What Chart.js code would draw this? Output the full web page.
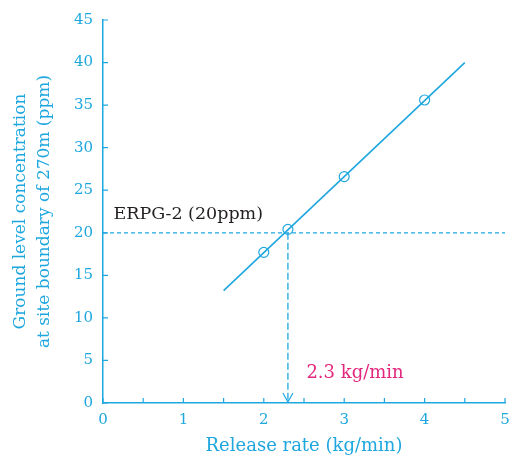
<!DOCTYPE html>
<html>
<head>
<meta charset="utf-8">
<script src="https://cdn.jsdelivr.net/npm/chart.js@4/dist/chart.umd.min.js"></script>
<style>
  html, body { margin: 0; padding: 0; background: #fff; }
  #wrap { width: 509px; height: 457px; }
</style>
</head>
<body>
<div id="wrap"><canvas id="chart"></canvas></div>
<script>
// data
const fitX = [1.5, 4.5];
const fitY = [13.2, 40.0];
const pointX = [2, 3, 4, 2.3];
const pointY = [17.7, 26.6, 35.6, 20.4];
const limitY = 20;
const limitLabel = 'ERPG-2 (20ppm)';
const rateX = 2.3;
const rateLabel = '2.3 kg/min';
const xTicks = [0, 1, 2, 3, 4, 5];
const yTicks = [0, 5, 10, 15, 20, 25, 30, 35, 40, 45];
const xTitle = 'Release rate (kg/min)';
const yTitle = ['Ground level concentration', 'at site boundary of 270m (ppm)'];

const cyan = '#1ea7df';
const pink = '#e2277d';
const serif = "'DejaVu Serif', serif";

const toPts = (xs, ys) => xs.map((x, i) => ({x: x, y: ys[i]}));

// inward tick marks, text labels and the arrow head
const extras = {
  id: 'extras',
  afterDatasetsDraw(chart) {
    const {ctx, scales: {x, y}} = chart;
    ctx.save();
    ctx.strokeStyle = cyan;
    ctx.lineWidth = 1.2;
    ctx.setLineDash([]);
    ctx.beginPath();
    x.ticks.forEach(t => {
      const px = x.getPixelForValue(t.value);
      ctx.moveTo(px, y.bottom);
      ctx.lineTo(px, y.bottom - 5);
    });
    y.ticks.forEach(t => {
      const py = y.getPixelForValue(t.value);
      ctx.moveTo(x.left, py);
      ctx.lineTo(x.left + 5, py);
    });
    ctx.stroke();

    // arrow head at the bottom of the dashed drop line
    const ax = x.getPixelForValue(rateX);
    const ay = y.getPixelForValue(0) - 1;
    ctx.beginPath();
    ctx.moveTo(ax - 5, ay - 9);
    ctx.lineTo(ax, ay);
    ctx.lineTo(ax + 5, ay - 9);
    ctx.stroke();

    ctx.textBaseline = 'middle';
    ctx.textAlign = 'left';
    ctx.font = '17.5px ' + serif;
    ctx.fillStyle = '#231f20';
    ctx.fillText(limitLabel, x.getPixelForValue(0.13), y.getPixelForValue(22.1));
    ctx.font = '18px ' + serif;
    ctx.fillStyle = pink;
    ctx.fillText(rateLabel, x.getPixelForValue(2.53), y.getPixelForValue(3.5));
    ctx.restore();
  }
};

new Chart(document.getElementById('chart'), {
  type: 'scatter',
  data: {
    datasets: [
      {
        data: toPts(fitX, fitY),
        showLine: true,
        borderColor: cyan,
        borderWidth: 1.6,
        pointRadius: 0
      },
      {
        data: toPts(pointX, pointY),
        borderColor: cyan,
        backgroundColor: 'rgba(0,0,0,0)',
        borderWidth: 1.2,
        pointRadius: 5,
        showLine: false
      },
      {
        data: [{x: xTicks[0], y: limitY}, {x: xTicks[xTicks.length - 1], y: limitY}],
        showLine: true,
        borderColor: cyan,
        borderWidth: 1.2,
        borderDash: [4, 3],
        pointRadius: 0
      },
      {
        data: [{x: rateX, y: limitY}, {x: rateX, y: 0}],
        showLine: true,
        borderColor: cyan,
        borderWidth: 1.3,
        borderDash: [7, 3],
        pointRadius: 0
      }
    ]
  },
  options: {
    responsive: true,
    maintainAspectRatio: false,
    animation: false,
    layout: { autoPadding: false, padding: { top: 20, right: 4, left: 0, bottom: 0 } },
    plugins: {
      legend: { display: false },
      tooltip: { enabled: false }
    },
    scales: {
      x: {
        type: 'linear',
        min: xTicks[0],
        max: xTicks[xTicks.length - 1],
        afterFit: s => { s.height = 54; s.paddingLeft = 0; s.paddingRight = 0; },
        grid: { display: true, drawOnChartArea: false, drawTicks: false },
        border: { color: cyan, width: 1.5 },
        ticks: {
          stepSize: 0.5,
          padding: 8,
          color: cyan,
          font: { family: serif, size: 15 },
          callback: v => (xTicks.includes(v) ? String(v) : '')
        },
        title: {
          display: true,
          text: xTitle,
          color: cyan,
          font: { family: serif, size: 18 },
          padding: { top: 0, bottom: 0 }
        }
      },
      y: {
        type: 'linear',
        min: yTicks[0],
        max: yTicks[yTicks.length - 1],
        afterFit: s => { s.width = 103; },
        grid: { display: true, drawOnChartArea: false, drawTicks: false },
        border: { color: cyan, width: 1.5 },
        ticks: {
          stepSize: 5,
          padding: 10,
          color: cyan,
          font: { family: serif, size: 15 },
          callback: v => (yTicks.includes(v) ? String(v) : '')
        },
        title: {
          display: true,
          text: yTitle,
          color: cyan,
          font: { family: serif, size: 17, lineHeight: 1.45 },
          padding: { top: 8, bottom: 0 }
        }
      }
    }
  },
  plugins: [extras]
});
</script>
</body>
</html>
